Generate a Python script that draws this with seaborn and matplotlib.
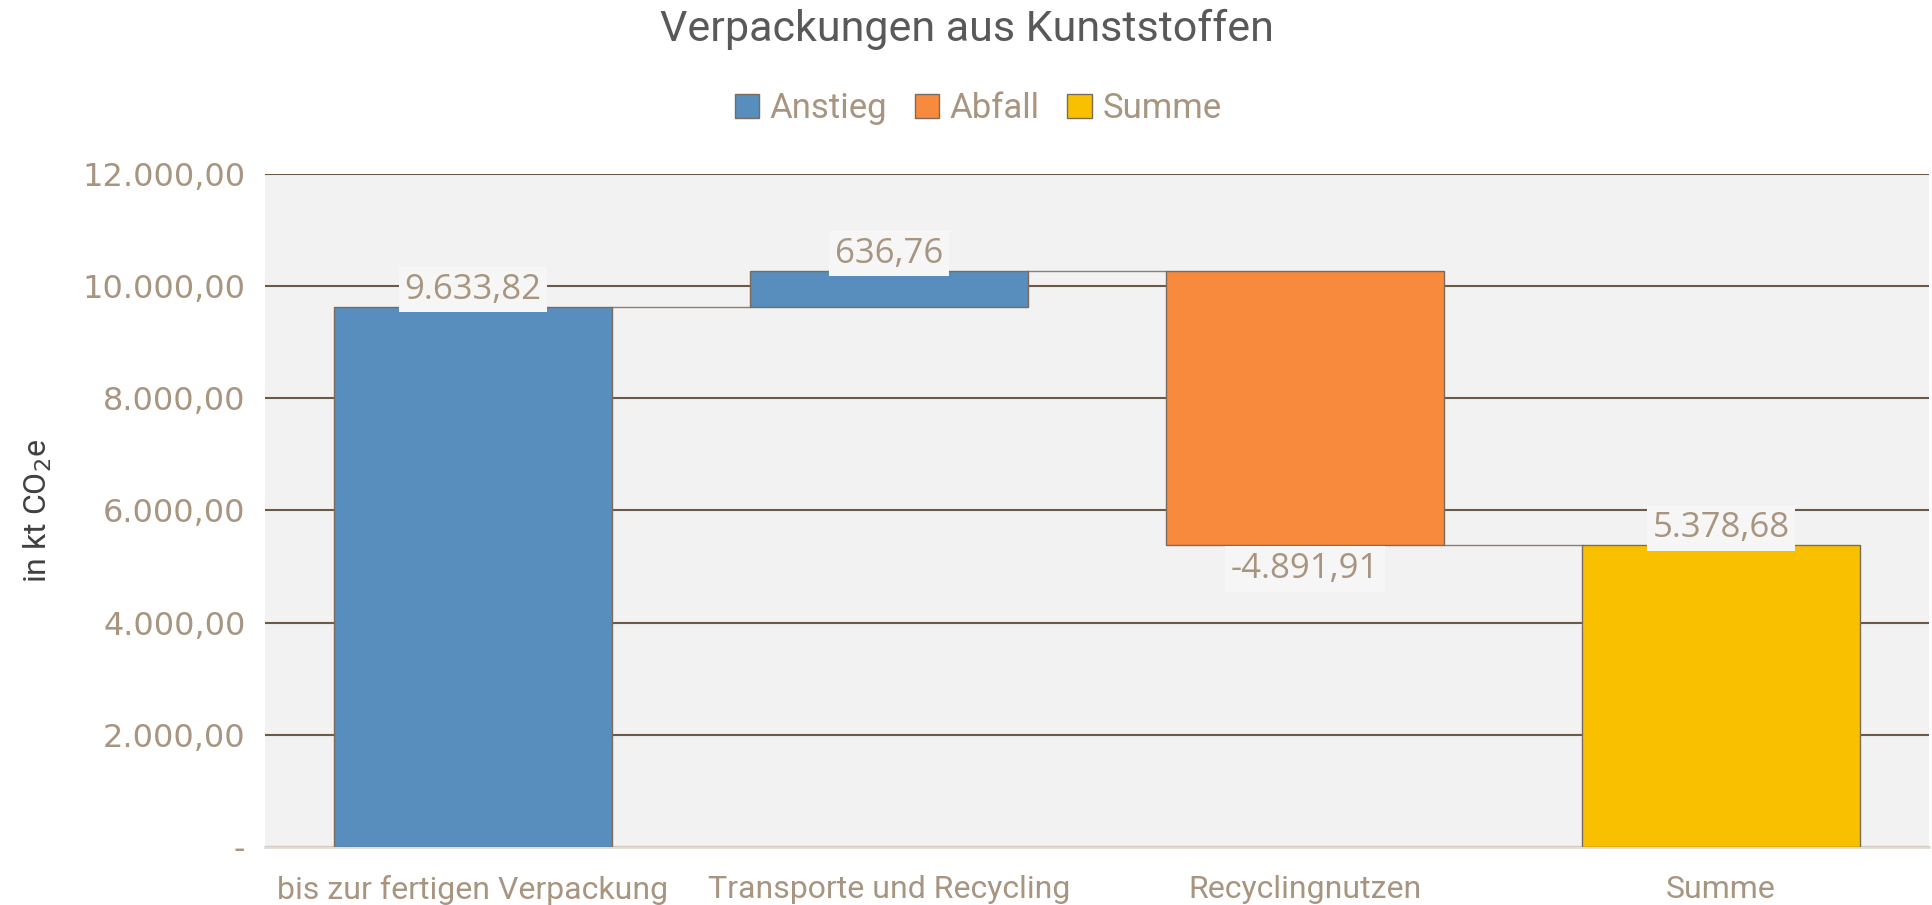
# Wasserfall-Diagramm: Verpackungen aus Kunststoffen
import matplotlib
matplotlib.use('Agg')
import matplotlib.pyplot as plt
from matplotlib.patches import Patch
import seaborn as sns

# Daten
kategorien = ['bis zur fertigen Verpackung', 'Transporte und Recycling', 'Recyclingnutzen', 'Summe']
werte = [9633.82, 636.76, -4891.91, 5378.68]
typen = ['Anstieg', 'Anstieg', 'Abfall', 'Summe']
y_ticks = [0, 2000, 4000, 6000, 8000, 10000, 12000]

farben = {'Anstieg': '#578EBE', 'Abfall': '#F78A3D', 'Summe': '#F9C000'}
tan = '#A89580'
kante = '#7A6B5C'


def de_format(v):
    s = f"{v:,.2f}"
    return s.replace(',', 'X').replace('.', ',').replace('X', '.')


# Startwerte der Balken (Summe beginnt wieder bei 0)
basis = []
laufend = 0
for v, t in zip(werte, typen):
    if t == 'Summe':
        basis.append(0)
    else:
        basis.append(laufend)
        laufend += v

sns.set_style('white')
fig = plt.figure(figsize=(19.33, 9.05), dpi=100)
ax = fig.add_axes([0.137, 0.064, 0.861, 0.744])
ax.set_facecolor('#F2F2F2')

sns.barplot(x=kategorien, y=werte, hue=kategorien, legend=False,
            palette=[farben[t] for t in typen], saturation=1, width=0.667,
            edgecolor=kante, linewidth=1, ax=ax, zorder=3)

for patch, b in zip(ax.patches, basis):
    patch.set_y(b)

# Verbindungslinien
for i in range(len(werte) - 1):
    ende = basis[i] + werte[i]
    ax.plot([i + 0.333, i + 1 - 0.333], [ende, ende], color='#8C8070', lw=1, zorder=2)

# Datenbeschriftungen
for i, (v, b) in enumerate(zip(werte, basis)):
    if v >= 0:
        y = b + v
        va = 'bottom'
    else:
        y = b + v - 120
        va = 'top'
    ax.text(i, y, de_format(v), ha='center', va=va, fontsize=25, color=tan,
            family=['Open Sans', 'DejaVu Sans'], zorder=5,
            bbox=dict(facecolor='#F6F6F6', edgecolor='none', pad=4))

ax.set_xlim(-0.5, 3.5)
ax.set_ylim(0, 12000)
ax.set_yticks(y_ticks)
ax.set_yticklabels(['-'] + [de_format(t) for t in y_ticks[1:]],
                   fontsize=23, color=tan, family='DejaVu Sans')
ax.tick_params(axis='x', labelsize=23, colors=tan, length=0, pad=20)
ax.tick_params(axis='y', length=0, pad=14)
for lbl in ax.get_xticklabels():
    lbl.set_family(['Roboto', 'DejaVu Sans'])
ax.yaxis.grid(True, color='#6B5A48', lw=1.5, zorder=0)
ax.set_axisbelow(True)
for s in ax.spines.values():
    s.set_visible(False)
ax.spines['bottom'].set_visible(True)
ax.spines['bottom'].set_color('#E2DCD4')
ax.spines['bottom'].set_linewidth(2)

ax.set_ylabel('in kt CO$_2$e', fontsize=23, color='#404040',
              family=['Roboto', 'DejaVu Sans'], labelpad=20)
ax.set_xlabel('')

fig.suptitle('Verpackungen aus Kunststoffen', y=0.99, fontsize=31,
             color='#595959', family=['Roboto', 'DejaVu Sans'])

handles = [Patch(facecolor=farben[k], edgecolor=kante, label=k) for k in ['Anstieg', 'Abfall', 'Summe']]
leg = fig.legend(handles=handles, loc='center', bbox_to_anchor=(0.506, 0.88), ncol=3,
                 frameon=False, handlelength=0.7, handleheight=0.7,
                 handletextpad=0.3, columnspacing=0.8,
                 prop={'family': ['Roboto', 'DejaVu Sans'], 'size': 25})
for t in leg.get_texts():
    t.set_color(tan)

fig.savefig('out.png', dpi=100)
